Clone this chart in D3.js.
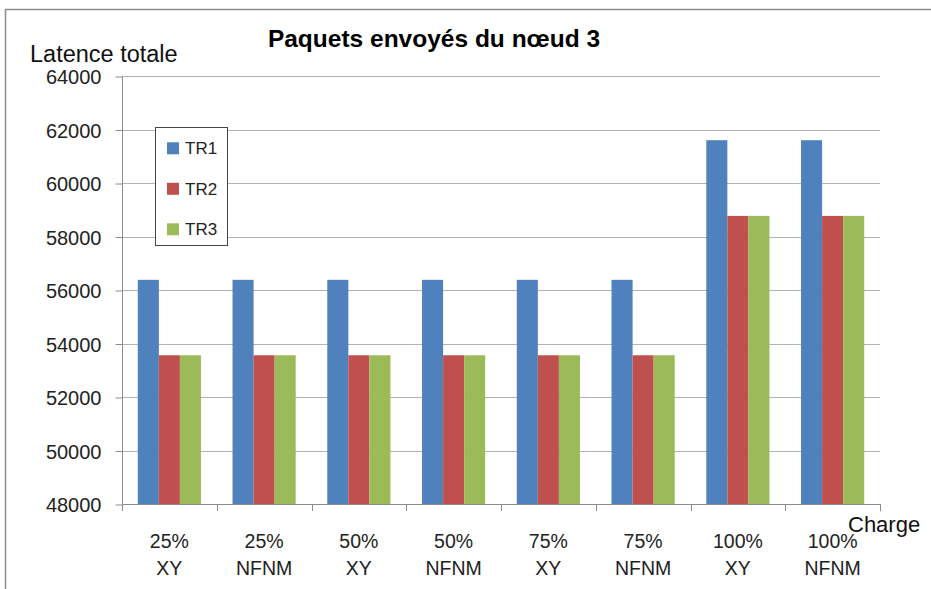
<!DOCTYPE html>
<html>
<head>
<meta charset="utf-8">
<script src="https://cdn.jsdelivr.net/npm/d3@7"></script>
<style>
  html, body { margin: 0; padding: 0; background: #fff; }
  svg text { font-family: "Liberation Sans", "DejaVu Sans", sans-serif; }
</style>
</head>
<body>
<svg id="chart" width="931" height="589"></svg>
<script>
// Categories on the x axis (two-line labels: load, routing)
const loads    = ["25%", "25%", "50%", "50%", "75%", "75%", "100%", "100%"];
const routings = ["XY", "NFNM", "XY", "NFNM", "XY", "NFNM", "XY", "NFNM"];

// Series values: total latency per category
const seriesNames = ["TR1", "TR2", "TR3"];
const tr1 = [56380, 56380, 56380, 56380, 56380, 56380, 61600, 61600];
const tr2 = [53560, 53560, 53560, 53560, 53560, 53560, 58770, 58770];
const tr3 = [53560, 53560, 53560, 53560, 53560, 53560, 58770, 58770];

// Y tick values
const yTicks = [48000, 50000, 52000, 54000, 56000, 58000, 60000, 62000, 64000];

const colors = ["#4f81bd", "#c0504d", "#9bbb59"];
const seriesValues = [tr1, tr2, tr3];

const svg = d3.select("#chart");

// chart frame
svg.append("path")
  .attr("d", "M5.5,600 L5.5,9.5 L940,9.5")
  .attr("fill", "none").attr("stroke", "#8c8c8c").attr("stroke-width", 1.5);

const plot = { left: 122, right: 880, top: 76, bottom: 504 };

const cats = d3.range(loads.length);
const x = d3.scaleBand().domain(cats).range([plot.left, plot.right]).paddingInner(0).paddingOuter(0);
const y = d3.scaleLinear().domain([48000, 64000]).range([plot.bottom, plot.top]);

// bar sub-positions: 3 bars + 1.5-bar gap per category
const barW = x.bandwidth() / 4.5;
const xs = d3.scaleBand().domain(seriesNames).range([0.75 * barW, 3.75 * barW]).padding(0);

// gridlines
svg.append("g")
  .selectAll("line")
  .data(yTicks)
  .join("line")
  .attr("x1", plot.left).attr("x2", plot.right)
  .attr("y1", d => Math.round(y(d)) + 0.5).attr("y2", d => Math.round(y(d)) + 0.5)
  .attr("stroke", "#b3b3b3").attr("stroke-width", 1.2);

// bars
const rows = [];
cats.forEach(i => seriesNames.forEach((s, k) => rows.push({ i, s, k, v: seriesValues[k][i] })));
svg.append("g")
  .selectAll("rect")
  .data(rows)
  .join("rect")
  .attr("x", d => x(d.i) + xs(d.s))
  .attr("width", xs.bandwidth())
  .attr("y", d => y(d.v))
  .attr("height", d => y(48000) - y(d.v))
  .attr("fill", d => colors[d.k]);

// y axis
const yAxis = d3.axisLeft(y).tickValues(yTicks).tickSize(7).tickFormat(d3.format("d"));
const gy = svg.append("g").attr("transform", `translate(${plot.left + 0.5},0.5)`).call(yAxis);
gy.select(".domain").attr("stroke", "#8c8c8c").attr("d", `M-0,${plot.top}V${plot.bottom}`);
gy.selectAll(".tick line").attr("stroke", "#8c8c8c");
gy.selectAll(".tick text")
  .attr("x", -21).attr("dy", "0.35em")
  .attr("font-size", 20).attr("fill", "#222")
  .style("font-family", "'Liberation Sans', sans-serif");

// x axis line and category separator ticks
const gx = svg.append("g");
gx.append("line")
  .attr("x1", plot.left).attr("x2", plot.right)
  .attr("y1", plot.bottom + 0.5).attr("y2", plot.bottom + 0.5)
  .attr("stroke", "#8c8c8c");
gx.selectAll("line.sep")
  .data(d3.range(loads.length + 1))
  .join("line").attr("class", "sep")
  .attr("x1", i => Math.round(plot.left + i * x.step()) + 0.5)
  .attr("x2", i => Math.round(plot.left + i * x.step()) + 0.5)
  .attr("y1", plot.bottom).attr("y2", plot.bottom + 7)
  .attr("stroke", "#8c8c8c");

// category labels
const lab = svg.append("g").selectAll("text")
  .data(cats)
  .join("text")
  .attr("text-anchor", "middle")
  .attr("font-size", 19.5).attr("fill", "#222");
lab.append("tspan")
  .attr("x", i => x(i) + x.bandwidth() / 2).attr("y", 548)
  .text(i => loads[i]);
lab.append("tspan")
  .attr("x", i => x(i) + x.bandwidth() / 2).attr("y", 575)
  .text(i => routings[i]);

// axis titles
svg.append("text").attr("x", 30).attr("y", 62)
  .attr("font-size", 23.5).attr("fill", "#111").text("Latence totale");
svg.append("text").attr("x", 848).attr("y", 532)
  .attr("font-size", 22).attr("fill", "#111").text("Charge");

// chart title
svg.append("text").attr("x", 434).attr("y", 47)
  .attr("text-anchor", "middle")
  .attr("font-size", 24.5).attr("font-weight", "bold").attr("fill", "#000")
  .text("Paquets envoyés du nœud 3");

// legend
const lg = svg.append("g");
lg.append("rect")
  .attr("x", 155.5).attr("y", 127.5).attr("width", 72).attr("height", 118)
  .attr("fill", "#fff").attr("stroke", "#444").attr("stroke-width", 1);
const items = lg.selectAll("g.item").data(seriesNames).join("g").attr("class", "item")
  .attr("transform", (d, k) => `translate(167,${148.3 + k * 40.5})`);
items.append("rect").attr("x", 0).attr("y", -6).attr("width", 12).attr("height", 12)
  .attr("fill", (d, k) => colors[k]);
items.append("text").attr("x", 18).attr("y", 0).attr("dy", "0.35em")
  .attr("font-size", 17).attr("fill", "#222").text(d => d);
</script>
</body>
</html>
